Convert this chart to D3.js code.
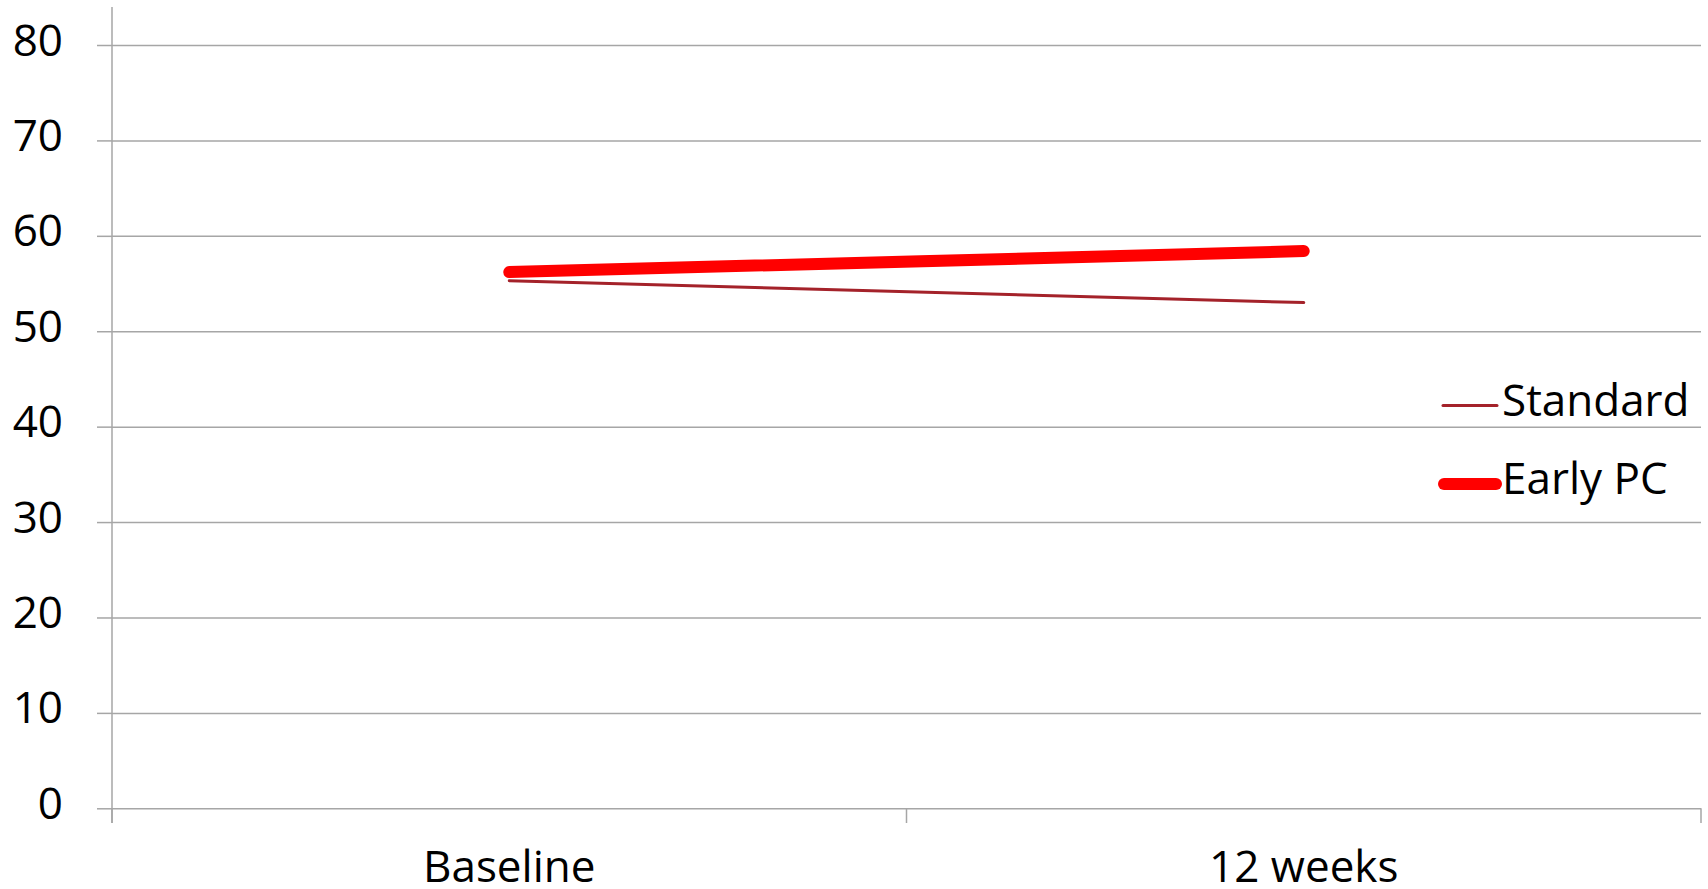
<!DOCTYPE html>
<html>
<head>
<meta charset="utf-8">
<script src="https://cdn.jsdelivr.net/npm/d3@7"></script>
<style>
  html, body { margin: 0; padding: 0; background: #fff; }
  svg { display: block; }
  text { font-family: "Open Sans", "Noto Sans", sans-serif; fill: #000; }
</style>
</head>
<body>
<svg id="chart" width="1708" height="889"></svg>
<script>
// Time points on the x axis
const categories = ["Baseline", "12 weeks"];
// Mean score per group at each time point
const standardValues = [55.3, 53.0];
const earlyPcValues = [56.2, 58.4];
// Value axis ticks
const yTicks = [0, 10, 20, 30, 40, 50, 60, 70, 80];
const seriesNames = ["Standard", "Early PC"];

const series = [
  { name: seriesNames[0], values: standardValues, color: "#a4222a", width: 3 },
  { name: seriesNames[1], values: earlyPcValues, color: "#ff0000", width: 12 }
];

const svg = d3.select("#chart");
const plotLeft = 112, plotRight = 1701, plotTop = 45, plotBottom = 808.3;
const gridColor = "#a6a6a6";
const fontSize = 44;

const x = d3.scaleBand().domain(categories).range([plotLeft, plotRight]).paddingInner(0).paddingOuter(0);
const y = d3.scaleLinear().domain([0, 80]).range([plotBottom, plotTop]);

// Horizontal gridlines with short ticks to the left of the axis
const yAxis = d3.axisLeft(y).tickValues(yTicks).tickSize(15).tickFormat(d3.format("d"));
const gy = svg.append("g").attr("transform", `translate(${plotLeft},0)`).call(yAxis);
gy.select(".domain").remove();
gy.selectAll(".tick line").attr("stroke", gridColor).attr("stroke-width", 1.5);
gy.selectAll(".tick text")
  .attr("x", -49).attr("dy", "0.32em").attr("y", -4)
  .attr("font-size", fontSize).attr("fill", "#000")
  .style("font-family", '"Open Sans", "Noto Sans", sans-serif');
gy.selectAll(".tick").append("line")
  .attr("x1", 0).attr("x2", plotRight - plotLeft)
  .attr("stroke", gridColor).attr("stroke-width", 1.5);

// Vertical value axis line
svg.append("line")
  .attr("x1", plotLeft).attr("x2", plotLeft).attr("y1", 7).attr("y2", 823)
  .attr("stroke", gridColor).attr("stroke-width", 1.5);

// Category axis: ticks at band boundaries, labels at band centres
const edges = categories.map(c => x(c)).concat([plotRight]);
svg.selectAll(".xtick").data(edges).enter().append("line")
  .attr("class", "xtick")
  .attr("x1", d => d).attr("x2", d => d)
  .attr("y1", plotBottom).attr("y2", 823)
  .attr("stroke", gridColor).attr("stroke-width", 1.5);
svg.selectAll(".xlabel").data(categories).enter().append("text")
  .attr("class", "xlabel")
  .attr("x", d => x(d) + x.bandwidth() / 2)
  .attr("y", 867).attr("dy", "0.35em")
  .attr("text-anchor", "middle")
  .attr("font-size", fontSize)
  .text(d => d);

// Series lines
const line = d3.line()
  .x((d, i) => x(categories[i]) + x.bandwidth() / 2)
  .y(d => y(d));
series.forEach(s => {
  svg.append("path")
    .datum(s.values)
    .attr("d", line)
    .attr("fill", "none")
    .attr("stroke", s.color)
    .attr("stroke-width", s.width)
    .attr("stroke-linecap", "round");
});

// Legend
const legendY = [405.5, 484];
series.forEach((s, i) => {
  const g = svg.append("g").attr("transform", `translate(0,${legendY[i]})`);
  const inset = s.width > 6 ? 1 : 0;
  g.append("line")
    .attr("x1", 1443 + inset).attr("x2", 1497 - inset)
    .attr("y1", 0).attr("y2", 0)
    .attr("stroke", s.color).attr("stroke-width", s.width)
    .attr("stroke-linecap", "round");
  g.append("text")
    .attr("x", 1502).attr("y", -4).attr("dy", "0.32em")
    .attr("font-size", fontSize)
    .text(s.name);
});
</script>
</body>
</html>
